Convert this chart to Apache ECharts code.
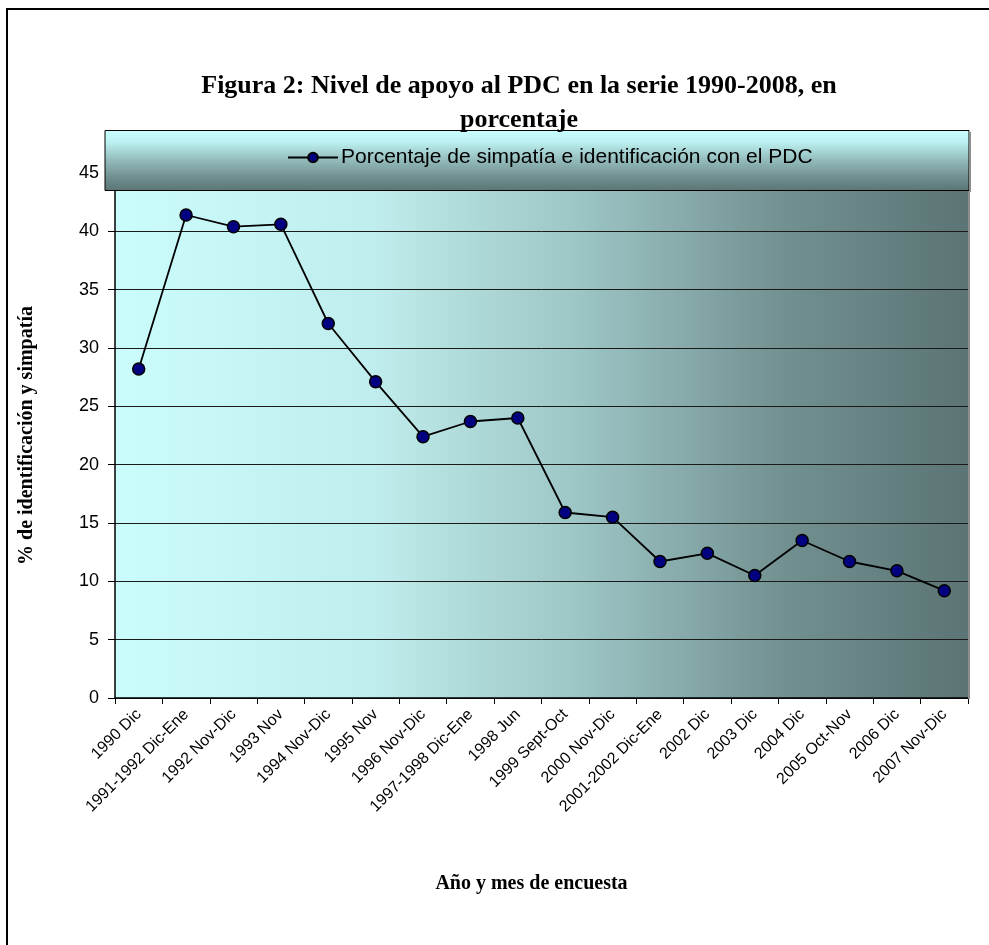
<!DOCTYPE html>
<html>
<head>
<meta charset="utf-8">
<script src="https://cdn.jsdelivr.net/npm/echarts@6/dist/echarts.min.js"></script>
<style>
  html, body { margin: 0; padding: 0; background: #fff; }
  #chart { width: 989px; height: 945px; }
</style>
</head>
<body>
<div id="chart"></div>
<script>
const categories = [
  '1990 Dic', '1991-1992 Dic-Ene', '1992 Nov-Dic', '1993 Nov', '1994 Nov-Dic',
  '1995 Nov', '1996 Nov-Dic', '1997-1998 Dic-Ene', '1998 Jun', '1999 Sept-Oct',
  '2000 Nov-Dic', '2001-2002 Dic-Ene', '2002 Dic', '2003 Dic', '2004 Dic',
  '2005 Oct-Nov', '2006 Dic', '2007 Nov-Dic'
]
const apoyo = [28.2, 41.4, 40.4, 40.6, 32.1, 27.1, 22.4, 23.7, 24.0, 15.9,
  15.5, 11.7, 12.4, 10.5, 13.5, 11.7, 10.9, 9.2]
const seriesName = 'Porcentaje de simpatía e identificación con el PDC'

const chart = echarts.init(document.getElementById('chart'))

const option = {
  backgroundColor: '#fff',
  animation: false,
  title: {
    text: 'Figura 2: Nivel de apoyo al PDC en la serie 1990-2008, en\nporcentaje',
    left: 514,
    textAlign: 'center',
    top: 64,
    textStyle: {
      fontFamily: 'Liberation Serif',
      fontWeight: 'bold',
      fontSize: 26,
      lineHeight: 34,
      color: '#000'
    }
  },
  legend: {
    top: 142,
    left: 282,
    z: 10,
    itemWidth: 50,
    itemHeight: 12,
    itemGap: 4,
    textStyle: { fontFamily: 'Liberation Sans', fontSize: 21, color: '#000', padding: [0, 0, 0, -2] },
    data: [seriesName]
  },
  grid: {
    left: 115,
    right: 21,
    top: 173,
    bottom: 247,
    outerBoundsMode: 'none',
    containLabel: false,
    show: true,
    borderWidth: 0,
    backgroundColor: new echarts.graphic.LinearGradient(0, 0, 1, 0, [
      { offset: 0, color: '#cbfcfc' },
      { offset: 0.3, color: '#c0eded' },
      { offset: 0.55, color: '#9cc4c4' },
      { offset: 0.78, color: '#739191' },
      { offset: 1, color: '#5b7474' }
    ])
  },
  xAxis: {
    type: 'category',
    data: categories,
    boundaryGap: true,
    name: 'Año y mes de encuesta',
    nameLocation: 'middle',
    nameGap: 176,
    nameTextStyle: {
      fontFamily: 'Liberation Serif', fontWeight: 'bold', fontSize: 20, color: '#000',
      padding: [0, 20, 0, 0]
    },
    axisLine: { lineStyle: { color: '#000', width: 1.5 } },
    axisTick: { show: true, alignWithLabel: false, length: 6, lineStyle: { color: '#000' } },
    axisLabel: {
      rotate: 45,
      interval: 0,
      margin: 14,
      fontFamily: 'Liberation Sans',
      fontSize: 16,
      color: '#000'
    },
    splitLine: { show: false }
  },
  yAxis: {
    type: 'value',
    min: 0,
    max: 45,
    interval: 5,
    name: '% de identificación y simpatía',
    nameLocation: 'middle',
    nameGap: 78,
    nameTextStyle: {
      fontFamily: 'Liberation Serif', fontWeight: 'bold', fontSize: 20, color: '#000'
    },
    axisLine: { show: true, lineStyle: { color: '#000', width: 1.5 } },
    axisTick: { show: true, length: 7, lineStyle: { color: '#000' } },
    axisLabel: {
      margin: 16,
      fontFamily: 'Liberation Sans',
      fontSize: 18,
      color: '#000'
    },
    splitLine: { show: true, lineStyle: { color: '#1a1a1a', width: 1 } }
  },
  graphic: [
    {
      type: 'rect',
      shape: { x: 7, y: 9, width: 1000, height: 1000 },
      style: { fill: 'none', stroke: '#000', lineWidth: 2 },
      z: 0, silent: true
    },
    {
      type: 'rect',
      shape: { x: 968, y: 173, width: 2, height: 526 },
      style: { fill: '#8c8c8c' },
      z: 1, silent: true
    },
    {
      type: 'rect',
      shape: { x: 105, y: 130.5, width: 864, height: 60 },
      style: {
        fill: new echarts.graphic.LinearGradient(0, 0, 0, 1, [
          { offset: 0, color: '#c8ffff' },
          { offset: 0.2, color: '#bcf0f0' },
          { offset: 0.5, color: '#93baba' },
          { offset: 0.8, color: '#6d8c8c' },
          { offset: 1, color: '#5a7575' }
        ]),
        stroke: '#000',
        lineWidth: 1
      },
      z: 5, silent: true
    },
    {
      type: 'rect',
      shape: { x: 969, y: 132, width: 2, height: 60 },
      style: { fill: '#8c8c8c' },
      z: 5, silent: true
    }
  ],
  series: [
    {
      name: seriesName,
      type: 'line',
      data: apoyo,
      symbol: 'circle',
      symbolSize: 12,
      lineStyle: { color: '#000', width: 1.8 },
      itemStyle: { color: '#000080', borderColor: '#000', borderWidth: 1.5 },
      z: 3
    }
  ]
}

chart.setOption(option)
</script>
</body>
</html>
